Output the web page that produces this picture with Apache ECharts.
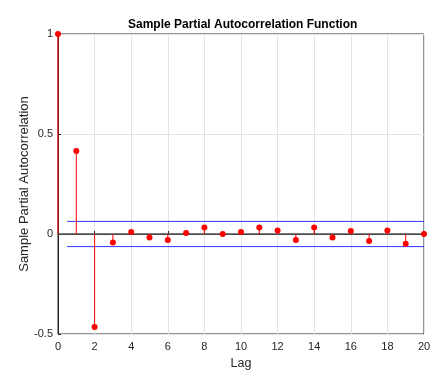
<!DOCTYPE html>
<html>
<head>
<meta charset="utf-8">
<script src="https://cdn.jsdelivr.net/npm/echarts@6/dist/echarts.min.js"></script>
<style>
  html, body { margin: 0; padding: 0; background: #fff; }
  #chart { width: 443px; height: 378px; }
</style>
</head>
<body>
<div id="chart"></div>
<script>
// lags and sample partial autocorrelations
const lags = [0, 1, 2, 3, 4, 5, 6, 7, 8, 9, 10, 11, 12, 13, 14, 15, 16, 17, 18, 19, 20];
const pacf = [1, 0.415, -0.465, -0.043, 0.01, -0.017, -0.03, 0.005, 0.032, 0.0, 0.01,
              0.032, 0.018, -0.03, 0.032, -0.017, 0.015, -0.035, 0.018, -0.049, 0.0];
const bound = 0.063;   // confidence bounds
const boundLags = [0.5, 20];

const points = lags.map((l, i) => [l, pacf[i]]);

const chart = echarts.init(document.getElementById("chart"));
const font = "Liberation Sans, Arial, sans-serif";

chart.setOption({
  animation: false,
  title: {
    text: "Sample Partial Autocorrelation Function",
    left: 123, top: 14,
    textStyle: { fontFamily: font, fontSize: 12, fontWeight: "bold", color: "#000" }
  },
  grid: {
    left: 58, right: 19, top: 34, bottom: 44,
    show: true, borderColor: "#262626", borderWidth: 1
  },
  xAxis: {
    type: "value", min: 0, max: 20, interval: 2,
    name: "Lag", nameLocation: "middle", nameGap: 23, nameMoveOverlap: false,
    nameTextStyle: { fontFamily: font, fontSize: 12.5, color: "#262626" },
    axisLine: { lineStyle: { color: "#262626" } },
    axisTick: { inside: true, length: 3, lineStyle: { color: "#262626" } },
    axisLabel: { fontFamily: font, fontSize: 11, color: "#262626", margin: 7 },
    splitLine: { show: true, lineStyle: { color: "#e3e3e3" } }
  },
  yAxis: {
    type: "value", min: -0.5, max: 1, interval: 0.5,
    name: "Sample Partial Autocorrelation", nameLocation: "middle", nameGap: 27,
    nameMoveOverlap: false,
    nameTextStyle: { fontFamily: font, fontSize: 13, color: "#262626" },
    axisLine: { show: true, onZero: false, lineStyle: { color: "#262626" } },
    axisTick: { show: true, inside: true, length: 3, lineStyle: { color: "#262626" } },
    axisLabel: { fontFamily: font, fontSize: 11, color: "#262626", margin: 5 },
    splitLine: { show: true, lineStyle: { color: "#e3e3e3" } }
  },
  series: [
    {
      // zero line
      type: "line", data: [[0, 0], [20, 0]], symbol: "none", silent: true,
      lineStyle: { color: "#555555", width: 1.5 }, z: 2
    },
    {
      type: "line", data: boundLags.map(l => [l, bound]), symbol: "none",
      lineStyle: { color: "#3333ff", width: 1 }, z: 3
    },
    {
      type: "line", data: boundLags.map(l => [l, -bound]), symbol: "none",
      lineStyle: { color: "#3333ff", width: 1 }, z: 3
    },
    {
      // stems
      type: "custom", data: points, z: 4,
      renderItem: function (params, api) {
        const top = api.coord([api.value(0), api.value(1)]);
        const base = api.coord([api.value(0), 0]);
        return {
          type: "line",
          shape: { x1: top[0], y1: top[1], x2: base[0], y2: base[1] },
          style: { stroke: "#ff0000", lineWidth: 1 }
        };
      }
    },
    {
      type: "scatter", data: points, symbol: "circle", symbolSize: 6, z: 5,
      itemStyle: { color: "#ff0000", opacity: 1 }
    }
  ]
});
</script>
</body>
</html>
